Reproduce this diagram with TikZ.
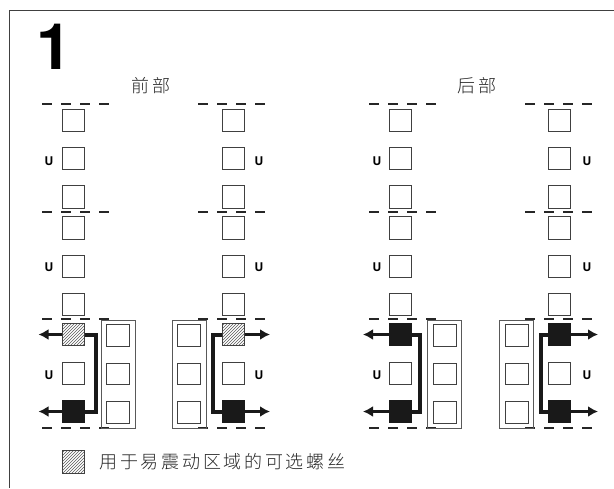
\documentclass[tikz,border=0pt]{standalone}
\usepackage{fontspec}
\setmainfont{TeX Gyre Heros}
\newfontfamily\cjk[LetterSpace=15,UprightFont=* Light]{Noto Sans CJK SC}
\usetikzlibrary{patterns,arrows.meta}

\tikzset{
  bolt/.style={draw=black!75, line width=0.8pt, fill=white, minimum size=22.5pt, inner sep=0pt, outer sep=0pt},
  spare/.style={bolt, fill=none},
  rack/.style={draw=black!65, line width=0.9pt, minimum width=34pt, minimum height=108pt, inner sep=0pt},
  hatchbolt/.style={bolt, pattern=north east lines, pattern color=black!65},
  blackbolt/.style={bolt, draw=black!90, fill=black!90},
  datum/.style={black!85, line width=1.2pt, dash pattern=on 10pt off 9pt},
  brace/.style={black!90, line width=4pt, line cap=butt, line join=miter},
  pull/.style={black!90, line width=3.6pt, -{Latex[length=10pt,width=11pt]}},
  ulabel/.style={font=\bfseries\fontsize{12}{12}\selectfont},
  cjktext/.style={font=\cjk\fontsize{18}{18}\selectfont, text=black!85}
}

\begin{document}
\begin{tikzpicture}[x=1pt, y=-1pt]
  \useasboundingbox (0,0) rectangle (614,488);

  % frame
  \draw[black!75, line width=0.9pt] (614,10) -- (9.5,10) -- (9.5,488);
  \node (fignum) at (54,47) {\fontsize{64}{64}\selectfont\bfseries 1};

  % titles
  \node[cjktext] (front) at (151,86) {前部};
  \node[cjktext] (rear) at (477,86) {后部};

  % bolt columns, x / start of the datum line / x of the U
  \foreach \name/\cx/\dstart/\ux in {a/73.5/42/49, b/233.5/198/259, c/400.5/369/377, d/559.5/525/587}{
    % datum lines
    \foreach \dy in {104,212,319,428}
      \draw[datum] (\dstart,\dy) -- ++(67.5,0);
    % upper rows
    \foreach \row/\ry in {1/120.5,2/158.5,3/197,4/228,5/266.5,6/304.5,8/373.5}
      \node[bolt] (\name\row) at (\cx,\ry) {};
    \node[ulabel] (\name u1) at (\ux,161) {U};
    \node[ulabel] (\name u2) at (\ux,267) {U};
    \node[ulabel] (\name u3) at (\ux,375) {U};
  }

  % lower rows, hatched in front and black at the rear
  \node[hatchbolt] (a7) at (73.5,334.5) {};
  \node[hatchbolt] (b7) at (233.5,334.5) {};
  \node[blackbolt] (c7) at (400.5,334.5) {};
  \node[blackbolt] (d7) at (559.5,334.5) {};
  \foreach \name/\cx in {a/73.5,b/233.5,c/400.5,d/559.5}
    \node[blackbolt] (\name9) at (\cx,411.5) {};

  % racks with three squares
  \foreach \name/\rx in {a/118,b/189,c/444.5,d/516.5}{
    \node[rack] (\name rack) at (\rx,374) {};
    \foreach \row/\ry in {1/335.5,2/374,3/412.5}
      \node[spare, minimum height=21.5pt, minimum width=23pt] (\name s\row) at (\rx,\ry) {};
  }

  % braces between the two lower bolts
  \draw[brace] (a7.east) -- ++(11,0) |- (a9.east);
  \draw[brace] (c7.east) -- ++(8.5,0) |- (c9.east);
  \draw[brace] (b7.west) -- ++(-9,0) |- (b9.west);
  \draw[brace] (d7.west) -- ++(-7,0) |- (d9.west);

  % free ends of the arrows
  \coordinate (a7end) at (38.5,334.5);
  \coordinate (a9end) at (38.5,411.5);
  \coordinate (b7end) at (270,334.5);
  \coordinate (b9end) at (270,411.5);
  \coordinate (c7end) at (363,334.5);
  \coordinate (c9end) at (363,411.5);
  \coordinate (d7end) at (598,334.5);
  \coordinate (d9end) at (598,411.5);
  \foreach \row in {7,9}{
    \draw[pull] (a\row.west) -- (a\row end);
    \draw[pull] (c\row.west) -- (c\row end);
    \draw[pull] (b\row.east) -- (b\row end);
    \draw[pull] (d\row.east) -- (d\row end);
  }

  % legend
  \node[hatchbolt] (key) at (73.5,462) {};
  \node[cjktext, anchor=west] (keytext) at (96,462) {用于易震动区域的可选螺丝};
\end{tikzpicture}
\end{document}
